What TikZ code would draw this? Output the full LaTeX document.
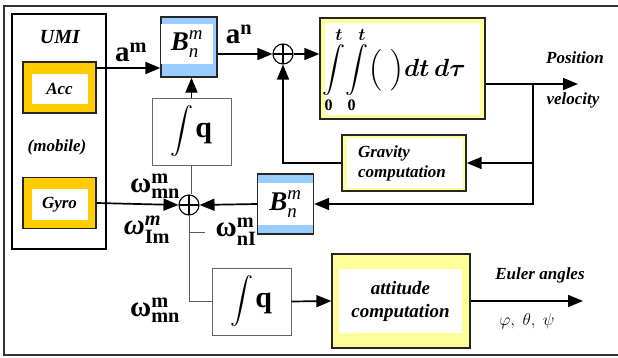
\documentclass[tikz,border=0pt]{standalone}
\usepackage{amsmath, amssymb}
\usepackage{fontspec}
\setmainfont{Liberation Serif}
\usepackage{tikz}
\usetikzlibrary{
    arrows.meta,
    calc
}
\definecolor{accorange}{HTML}{FFCC00}
\definecolor{rotblue}{HTML}{99CCFF}
\definecolor{calcyellow}{HTML}{FFFF99}
\tikzset
{
  outerbox/.style={draw=black!85,line width=1.3pt,inner sep=0pt},
  sensor/.style={outerbox,fill=accorange,minimum width=73pt,minimum height=51pt},
  rotation/.style={outerbox,fill=rotblue,minimum width=56pt,minimum height=60pt},
  calcbox/.style={outerbox,fill=calcyellow},
  core/.style={fill=white,inner sep=0pt},
  quatbox/.style={draw=black!60,line width=0.6pt,minimum width=79pt,minimum height=67pt,inner sep=0pt},
  sumnode/.style={circle,draw,line width=1.1pt,minimum size=20pt,inner sep=0pt,
    path picture={\draw[line width=1.1pt] (path picture bounding box.north) -- (path picture bounding box.south)
      (path picture bounding box.west) -- (path picture bounding box.east);}},
  signal/.style={draw,line width=1.7pt,-{Triangle[length=15pt,width=12pt]}},
  feed/.style={draw=black!65,line width=0.8pt},
  labeltext/.style={font=\fontsize{17}{20}\selectfont\bfseries\itshape,align=center,inner sep=0pt},
  sym/.style={font=\fontsize{29}{31}\selectfont,inner sep=0pt}
}

\begin{document}
\begin{tikzpicture}[x=1pt,y=-1pt]
        \useasboundingbox (0,0) rectangle (618,358);

        % Draw frame
        \draw[line width=1.2pt,black!80] (618,6) -- (4,6) -- (4,355) -- (618,355);

        % UMI unit
        \node[draw,line width=1.1pt,minimum width=94pt,minimum height=235pt] (umi) at (59,131.5) {};
        \node[labeltext,font=\fontsize{20}{22}\selectfont\bfseries\itshape] (umilabel) at (60,37) {UMI};
        \node[labeltext] (mobile) at (57,147) {(mobile)};
        \foreach \name/\ypos/\txt in {acc/87.5/Acc, gyro/203/Gyro}
        {
            \node[sensor] (\name) at (59.5,\ypos) {};
            \node[core,minimum width=56pt,minimum height=30pt,labeltext] (\name core) at ($(\name)+(0,1.5)$) {\txt};
        }

        % Rotation blocks
        \node[rotation] (btop) at (189,47) {};
        \node[core,minimum width=52pt,minimum height=40pt,sym,font=\fontsize{27}{29}\selectfont] (btopcore) at (187,44)
            {$\textbf{\textit{B}}^{\textit{m}}_{\textit{n}}$};
        \node[rotation] (blow) at (285.5,204) {};
        \node[core,minimum width=55pt,minimum height=42pt,sym,font=\fontsize{27}{29}\selectfont] (blowcore) at (285.5,204)
            {$\textbf{\textit{B}}^{\textit{m}}_{\textit{n}}$};

        % Summing points
        \node[sumnode] (sum1) at (283,54) {};
        \node[sumnode] (sum2) at (189,205) {};

        % Double integrator
        \node[calcbox,minimum width=165pt,minimum height=101pt] (integ) at (402.5,68.5) {};
        \node[core,minimum width=155pt,minimum height=92pt] (integcore) at (402.5,69) {};
        \node[inner sep=0pt,font=\fontsize{23}{25}\selectfont] (intexpr) at (394,70)
            {$\displaystyle\int\limits_{\mathbf{0}}^{\boldsymbol{t}}\!\int\limits_{\mathbf{0}}^{\boldsymbol{t}}\!\Big(\,\,\Big)\boldsymbol{dt\,d\tau}$};

        % Gravity computation
        \node[calcbox,minimum width=124pt,minimum height=56pt] (grav) at (404,163) {};
        \node[core,minimum width=116pt,minimum height=50pt] (gravcore) at (405,163) {};
        \node[labeltext,align=left] (gravtext) at (402,163) {Gravity\\computation};

        % Quaternion integrators
        \node[quatbox] (intq1) at (191.5,131.5)
            {{\fontsize{23}{25}\selectfont$\displaystyle\int$}\,{\fontsize{30}{32}\selectfont\textbf{q}}};
        \node[quatbox] (intq2) at (251.5,301.5)
            {{\fontsize{23}{25}\selectfont$\displaystyle\int$}\,{\fontsize{30}{32}\selectfont\textbf{q}}};

        % Attitude computation
        \node[calcbox,minimum width=138pt,minimum height=94pt] (att) at (401,301) {};
        \node[core,minimum width=123pt,minimum height=64pt,labeltext,font=\fontsize{19}{23}\selectfont\bfseries\itshape]
            (attcore) at (400.5,301) {attitude\\computation};

        % Signals
        \coordinate (am) at (96,68);
        \draw[signal] (am) -- (am -| btop.west);
        \draw[signal] (sum1.west -| btop.east) -- (sum1.west);
        \draw[signal] (sum1.east) -- (integ.west |- sum1);
        \coordinate (pvout) at (578,84);
        \coordinate (branch) at (533,84);
        \draw[signal] (pvout -| integ.east) -- (pvout);
        \draw[signal] (branch) |- (grav.east);
        \draw[signal] (branch) |- (blow.east);
        \draw[signal] (grav.west) -| (sum1.south);
        \draw[signal] (blow.west) -- (sum2.east);
        \draw[signal] (gyro.east) -- (sum2.west);
        \draw[signal] (intq1.north) -- (intq1.north |- btop.south);
        \draw[signal] (intq2.east) -- (att.west);
        \coordinate (eulerout) at (583,301);
        \draw[signal] (att.east) -- (eulerout);

        % Rate lines
        \draw[feed] (intq1.south) -- (intq1.south |- sum2.north);
        \draw[feed] (sum2.south) |- (intq2.west);
        \coordinate (nItick) at (205,232);
        \draw[feed] (nItick -| sum2.south) -- (nItick);

        % Labels
        \node[sym] (amlabel) at (131,52) {$\textbf{a}^{\textbf{m}}$};
        \node[sym] (anlabel) at (239,34) {$\textbf{a}^{\textbf{n}}$};
        \node[sym] (wmn) at (155,186) {$\textbf{ω}^{\textbf{m}}_{\textbf{mn}}$};
        \node[sym] (wim) at (147,230) {$\textbf{\textit{ω}}^{\textbf{\textit{m}}}_{\textbf{Im}}$};
        \node[sym] (wni) at (236,232) {$\textbf{ω}^{\textbf{m}}_{\textbf{nI}}$};
        \node[sym] (wmnlow) at (155,310) {$\textbf{ω}^{\textbf{m}}_{\textbf{mn}}$};
        \node[labeltext] (position) at (575,58) {Position};
        \node[labeltext] (velocity) at (573,100) {velocity};
        \node[labeltext] (euler) at (540,275) {Euler angles};
        \node[inner sep=0pt,font=\fontsize{18}{20}\selectfont] (angles) at (527,321) {$\varphi,\ \theta,\ \psi$};
    \end{tikzpicture}
\end{document}
